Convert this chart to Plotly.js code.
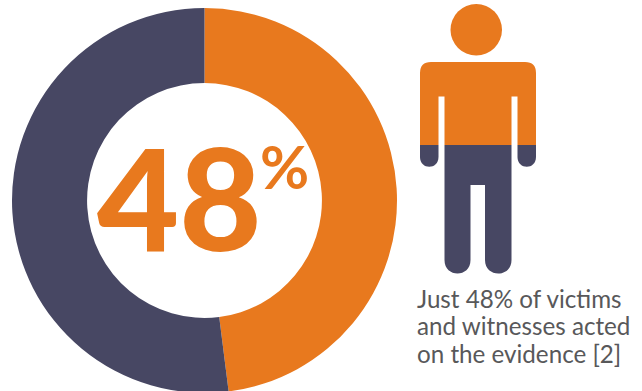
<!DOCTYPE html>
<html>
<head>
<meta charset="utf-8">
<script src="https://cdn.plot.ly/plotly-3.0.1.min.js"></script>
<style>
html,body{margin:0;padding:0;background:#fff;overflow:hidden}
#chart{width:642px;height:410px}
</style>
</head>
<body>
<div id="chart"></div>
<script>
// Share of victims and witnesses who acted on the evidence
const sliceLabels = ['Acted on the evidence', 'Did not act'];
const sliceValues = [48, 52];
const sliceColors = ['#E8791E', '#474763'];
const headline = '48';
const headlineUnit = '%';
const captionLines = ['Just 48% of victims', 'and witnesses acted', 'on the evidence [2]'];

const W = 642, H = 410;

// Pictogram outline, in pixel space of the hidden overlay axes
const r = 11;
const upperBody = `M420,145 L420,${62+r} Q420,62 ${420+r},62 L${536-r},62 Q536,62 536,${62+r} L536,145
  L517.5,145 L517.5,96.5 L511.5,96.5 L511.5,145 L444.5,145 L444.5,96.5 L438.5,96.5 L438.5,145 Z`;
const leftHand = 'M420,145 L438.5,145 L438.5,157 C438.5,170 420,170 420,157 Z';
const rightHand = 'M517.5,145 L536,145 L536,157 C536,170 517.5,170 517.5,157 Z';
const legs = `M444.5,145 L511.5,145 L511.5,260 C511.5,278 485,278 485,260 L485,185 L470.5,185 L470.5,260
  C470.5,278 444.5,278 444.5,260 Z`;

const pathShape = (path, color) => ({
  type: 'path', xref: 'x', yref: 'y', path: path,
  fillcolor: color, line: {width: 0}, layer: 'above'
});

const shapes = [
  {type: 'circle', xref: 'x', yref: 'y', x0: 450.5, x1: 502, y0: 4, y1: 55.5,
   fillcolor: sliceColors[0], line: {width: 0}},
  pathShape(upperBody, sliceColors[0]),
  pathShape(leftHand, sliceColors[1]),
  pathShape(rightHand, sliceColors[1]),
  pathShape(legs, sliceColors[1])
];

const font = 'Lato, "Open Sans", sans-serif';
const annotations = [
  {x: 179, y: 196, text: headline, font: {family: font, size: 142, weight: 900, color: sliceColors[0]}},
  {x: 284, y: 166, text: headlineUnit, font: {family: font, size: 60, weight: 700, color: sliceColors[0]}}
].concat(captionLines.map((line, i) => ({
  x: 415, y: 298 + i * 27.5, text: line, xanchor: 'left',
  font: {family: font, size: 24.2, color: '#58585A'}
}))).map(a => Object.assign({xref: 'x', yref: 'y', showarrow: false, xanchor: 'center', yanchor: 'middle'}, a));

Plotly.newPlot('chart', [
  {type: 'pie', labels: sliceLabels, values: sliceValues, sort: false, direction: 'clockwise', rotation: 0,
   hole: 0.61, textinfo: 'none', hoverinfo: 'label+percent',
   marker: {colors: sliceColors, line: {width: 0}},
   domain: {x: [12 / W, 397 / W], y: [(H - 393) / H, (H - 8) / H]}},
  // Carries the overlay axes the pictogram and labels are placed on
  {type: 'scatter', x: [null], y: [null], mode: 'markers', hoverinfo: 'skip'}
], {
  width: W, height: H, margin: {l: 0, r: 0, t: 0, b: 0, pad: 0},
  paper_bgcolor: '#fff', plot_bgcolor: 'rgba(0,0,0,0)', showlegend: false,
  xaxis: {visible: false, range: [0, W], fixedrange: true},
  yaxis: {visible: false, range: [H, 0], fixedrange: true},
  shapes: shapes, annotations: annotations
}, {displayModeBar: false, staticPlot: true});
</script>
</body>
</html>
